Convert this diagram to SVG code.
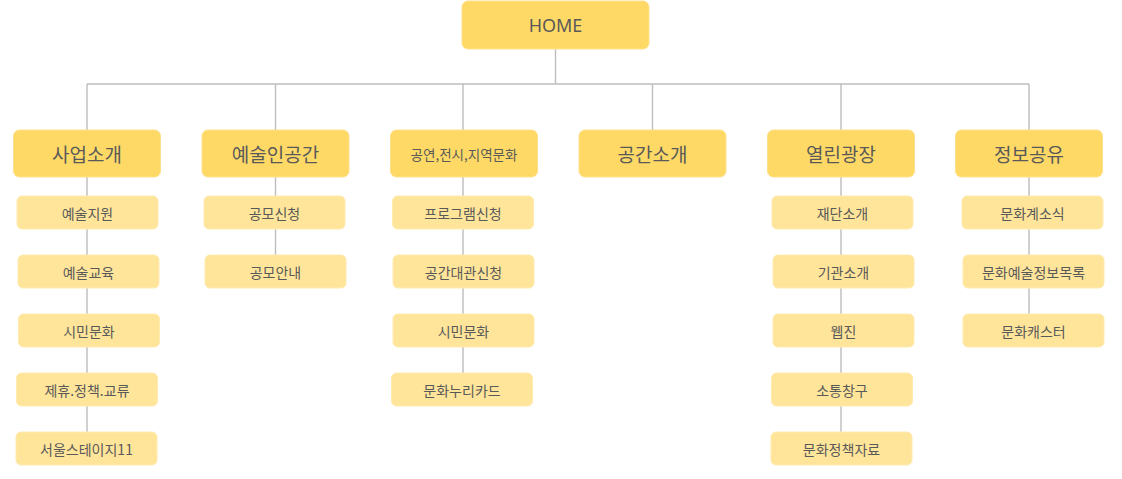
<svg xmlns="http://www.w3.org/2000/svg" width="1122" height="479" viewBox="0 0 1122 479">
<style>
.top{fill:#FFD966;stroke:#FFE08A;stroke-width:1}
.sub{fill:#FFE599;stroke:#FFEBB0;stroke-width:1}
text{font-family:"Noto Sans CJK KR","Noto Sans",sans-serif;fill:#595959;text-anchor:middle;dominant-baseline:central}
.t1{font-size:19px}
.t2{font-size:14px}
.conn{stroke:#BDBDBD;stroke-width:1.4;fill:none}
</style>
<rect width="1122" height="479" fill="#fff"/>
<g id="connectors">
<path class="conn" d="M555.5 49V84M87 84H1029"/>
<path class="conn" d="M87 84V440M275.5 84V288M463 84V400M652.5 84V130M841 84V460M1029 84V340"/>
</g>
<g id="home"><rect class="top" x="462" y="1" width="187" height="48" rx="6"/><text x="555.5" y="25" style="font-family:'Noto Sans','Open Sans',sans-serif;font-size:18px">HOME</text></g>

<g id="n1"><rect class="top" x="13.5" y="130" width="147" height="47" rx="6"/><text class="t1" x="87" y="153.5">사업소개</text></g>
<g id="n2"><rect class="top" x="202" y="130" width="147" height="47" rx="6"/><text class="t1" x="275.5" y="153.5">예술인공간</text></g>
<g id="n3"><rect class="top" x="390.5" y="130" width="147" height="47" rx="6"/><text x="464" y="153.5" style="font-size:13.5px">공연,전시,지역문화</text></g>
<g id="n4"><rect class="top" x="579" y="130" width="147" height="47" rx="6"/><text class="t1" x="652.5" y="153.5">공간소개</text></g>
<g id="n5"><rect class="top" x="767.5" y="130" width="147" height="47" rx="6"/><text class="t1" x="841" y="153.5">열린광장</text></g>
<g id="n6"><rect class="top" x="955.5" y="130" width="147" height="47" rx="6"/><text class="t1" x="1029" y="153.5">정보공유</text></g>

<g id="n1a"><rect class="sub" x="17" y="196" width="141" height="33" rx="5"/><text class="t2" x="87.5" y="212.5">예술지원</text></g>
<g id="n1b"><rect class="sub" x="18" y="255" width="141" height="33" rx="5"/><text class="t2" x="88.5" y="271.5">예술교육</text></g>
<g id="n1c"><rect class="sub" x="18.5" y="314" width="141" height="33" rx="5"/><text class="t2" x="89" y="330.5">시민문화</text></g>
<g id="n1d"><rect class="sub" x="16.5" y="373" width="141" height="33" rx="5"/><text class="t2" x="87" y="389.5">제휴.정책.교류</text></g>
<g id="n1e"><rect class="sub" x="16" y="432" width="141" height="33" rx="5"/><text class="t2" x="86.5" y="448.5">서울스테이지11</text></g>

<g id="n2a"><rect class="sub" x="204" y="196" width="141" height="33" rx="5"/><text class="t2" x="274.5" y="212.5">공모신청</text></g>
<g id="n2b"><rect class="sub" x="205" y="255" width="141" height="33" rx="5"/><text class="t2" x="275.5" y="271.5">공모안내</text></g>

<g id="n3a"><rect class="sub" x="392.5" y="196" width="141" height="33" rx="5"/><text class="t2" x="463" y="212.5">프로그램신청</text></g>
<g id="n3b"><rect class="sub" x="393" y="255" width="141" height="33" rx="5"/><text class="t2" x="463.5" y="271.5">공간대관신청</text></g>
<g id="n3c"><rect class="sub" x="393" y="314" width="141" height="33" rx="5"/><text class="t2" x="463.5" y="330.5">시민문화</text></g>
<g id="n3d"><rect class="sub" x="391.5" y="373" width="141" height="33" rx="5"/><text class="t2" x="462" y="389.5">문화누리카드</text></g>

<g id="n5a"><rect class="sub" x="772" y="196" width="141" height="33" rx="5"/><text class="t2" x="842.5" y="212.5">재단소개</text></g>
<g id="n5b"><rect class="sub" x="773" y="255" width="141" height="33" rx="5"/><text class="t2" x="843.5" y="271.5">기관소개</text></g>
<g id="n5c"><rect class="sub" x="773" y="314" width="141" height="33" rx="5"/><text class="t2" x="843.5" y="330.5">웹진</text></g>
<g id="n5d"><rect class="sub" x="771.5" y="373" width="141" height="33" rx="5"/><text class="t2" x="842" y="389.5">소통창구</text></g>
<g id="n5e"><rect class="sub" x="771" y="432" width="141" height="33" rx="5"/><text class="t2" x="841.5" y="448.5">문화정책자료</text></g>

<g id="n6a"><rect class="sub" x="962" y="196" width="141" height="33" rx="5"/><text class="t2" x="1032.5" y="212.5">문화계소식</text></g>
<g id="n6b"><rect class="sub" x="963" y="255" width="141" height="33" rx="5"/><text class="t2" x="1033.5" y="271.5">문화예술정보목록</text></g>
<g id="n6c"><rect class="sub" x="963" y="314" width="141" height="33" rx="5"/><text class="t2" x="1033.5" y="330.5">문화캐스터</text></g>
</svg>
